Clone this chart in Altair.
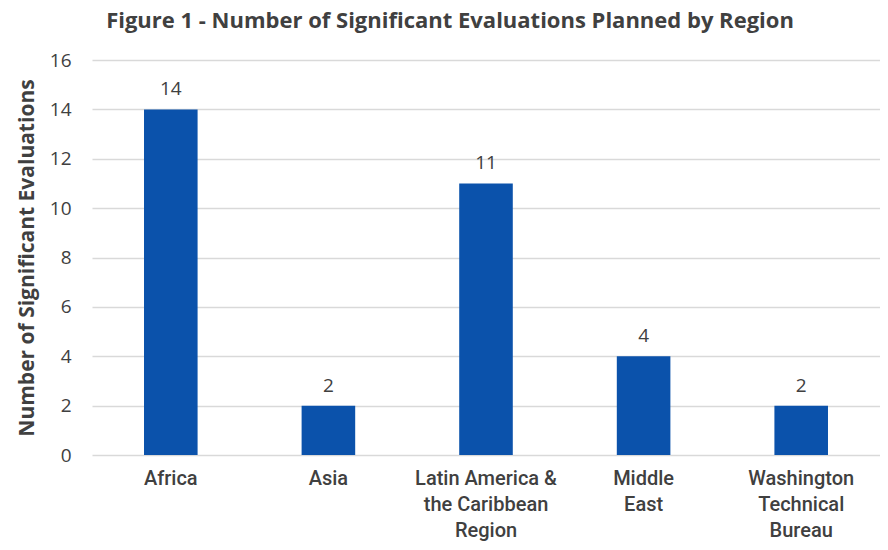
import altair as alt
import pandas as pd

regions = ["Africa", "Asia", "Latin America &\nthe Caribbean\nRegion", "Middle\nEast", "Washington\nTechnical\nBureau"]
counts = [14, 2, 11, 4, 2]
y_ticks = [0, 2, 4, 6, 8, 10, 12, 14, 16]

df = pd.DataFrame({"region": regions, "count": counts})

TXT = "#404040"
base = alt.Chart(df).encode(
    x=alt.X("region:N", sort=regions, title=None,
            scale=alt.Scale(paddingInner=0.66, paddingOuter=0.33),
            axis=alt.Axis(labelAngle=0, labelExpr="split(datum.label, '\\n')",
                          labelFont="Roboto", labelFontSize=20, labelFontWeight=500,
                          labelColor=TXT, labelLineHeight=26, labelPadding=13,
                          labelBaseline="top",
                          ticks=False, domain=False, grid=False)),
    y=alt.Y("count:Q", title="Number of Significant Evaluations",
            scale=alt.Scale(domain=[0, 16], nice=False),
            axis=alt.Axis(values=y_ticks, ticks=False, tickSize=0, domain=False,
                          grid=True, gridColor="#d9d9d9", gridWidth=1.5,
                          labelFont="Open Sans", labelFontSize=19, labelColor=TXT,
                          labelPadding=21,
                          titleFont="Open Sans", titleFontSize=21, titleFontWeight="bold",
                          titleColor=TXT, titlePadding=12)),
)

bars = base.mark_bar(color="#0b52ab")
labels = base.mark_text(dy=-10, baseline="bottom", font="Open Sans", fontSize=19,
                        color=TXT).encode(text="count:Q")

chart = (bars + labels).properties(
    width=788, height=395,
    autosize=alt.AutoSizeParams(type="none"),
    padding={"left": 84, "top": 52, "right": 0, "bottom": 87},
    title=alt.TitleParams("Figure 1 - Number of Significant Evaluations Planned by Region",
                          font="Open Sans", fontSize=22, fontWeight="bold", color=TXT,
                          anchor="middle", dx=-36, offset=18),
).configure_view(stroke=None)

chart.save("out.html", embed_options={"renderer": "svg", "actions": False})
